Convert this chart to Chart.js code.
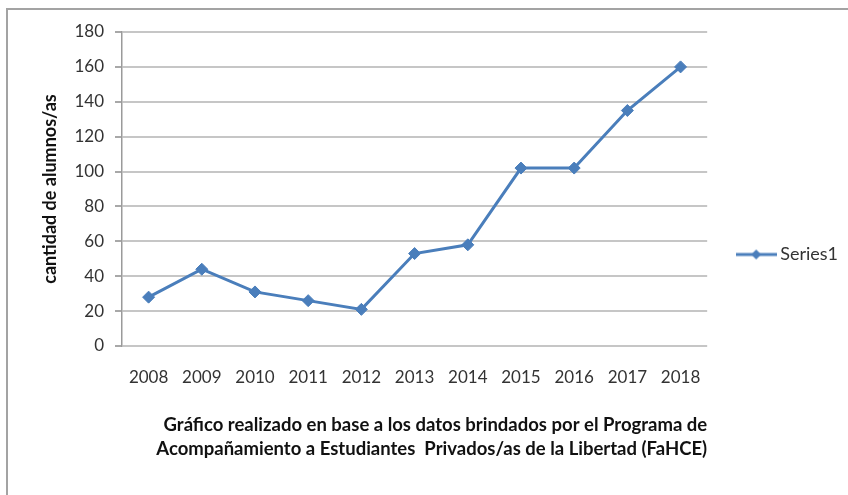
<!DOCTYPE html>
<html>
<head>
<meta charset="utf-8">
<script src="https://cdn.jsdelivr.net/npm/chart.js@4/dist/chart.umd.min.js"></script>
<style>
  html, body { margin: 0; padding: 0; background: #fff; }
  #wrap { position: relative; width: 848px; height: 495px; overflow: hidden; }
  #chart { position: absolute; left: 0; top: 0; }
  /* borde del área del gráfico (recortado a la derecha y abajo) */
  #frame {
    position: absolute; left: 6px; top: 8px; width: 900px; height: 600px;
    border-left: 2px solid #a3a3a3; border-top: 2px solid #a3a3a3;
    pointer-events: none;
  }
</style>
</head>
<body>
<div id="wrap">
  <canvas id="chart" width="848" height="495"></canvas>
  <div id="frame"></div>
</div>
<script>
// Datos del gráfico
const years = ['2008', '2009', '2010', '2011', '2012', '2013', '2014', '2015', '2016', '2017', '2018'];
const students = [28, 44, 31, 26, 21, 53, 58, 102, 102, 135, 160];
const seriesName = 'Series1';
const yAxisTitle = 'cantidad de alumnos/as';
const xAxisTitle = [
    'Gráfico realizado en base a los datos brindados por el Programa de',
    'Acompañamiento a Estudiantes  Privados/as de la Libertad (FaHCE)'
];

const blue = '#4a7ebb';
const fontFamily = 'Lato, "Open Sans", sans-serif';

// Muestra de la leyenda: línea con rombo
function legendSample() {
    const c = document.createElement('canvas');
    c.width = 41;
    c.height = 14;
    const g = c.getContext('2d');
    g.strokeStyle = blue;
    g.lineWidth = 3;
    g.beginPath();
    g.moveTo(0, 7);
    g.lineTo(41, 7);
    g.stroke();
    g.fillStyle = blue;
    g.beginPath();
    g.moveTo(20.5, 2);
    g.lineTo(25.5, 7);
    g.lineTo(20.5, 12);
    g.lineTo(15.5, 7);
    g.closePath();
    g.fill();
    return c;
}

const ctx = document.getElementById('chart').getContext('2d');
new Chart(ctx, {
    type: 'line',
    data: {
        labels: years,
        datasets: [{
            label: seriesName,
            data: students,
            borderColor: blue,
            backgroundColor: blue,
            borderWidth: 3,
            pointStyle: 'rectRot',
            pointRadius: 6,
            pointBorderWidth: 1,
            tension: 0
        }]
    },
    options: {
        responsive: false,
        animation: false,
        layout: {
            padding: { left: 37, top: 32, right: 0, bottom: 18 }
        },
        plugins: {
            tooltip: { enabled: false },
            legend: {
                position: 'right',
                labels: {
                    usePointStyle: true,
                    pointStyle: legendSample(),
                    pointStyleWidth: 30,
                    color: '#333',
                    padding: 34,
                    font: { family: fontFamily, size: 18 }
                }
            }
        },
        scales: {
            x: {
                offset: true,
                afterFit: (scale) => { scale.height = 495 - 18 - 346; },
                grid: { display: false, drawTicks: false },
                border: { display: false },
                ticks: {
                    color: '#333',
                    padding: 21,
                    maxRotation: 0,
                    autoSkip: false,
                    font: { family: fontFamily, size: 17 }
                },
                title: {
                    display: true,
                    text: xAxisTitle,
                    align: 'end',
                    color: '#111',
                    padding: { top: 0, bottom: 16 },
                    font: { family: fontFamily, size: 18.5, weight: 'bold', lineHeight: 1.3 }
                }
            },
            y: {
                min: 0,
                max: 180,
                afterFit: (scale) => { scale.width = 85; },
                grid: {
                    color: '#c6c6c6',
                    lineWidth: 2,
                    tickLength: 7,
                    tickColor: '#a8a8a8'
                },
                border: { display: true, color: '#9a9a9a', width: 1.5 },
                ticks: {
                    stepSize: 20,
                    color: '#333',
                    padding: 11,
                    font: { family: fontFamily, size: 17 }
                },
                title: {
                    display: true,
                    text: yAxisTitle,
                    color: '#111',
                    padding: { top: 2, bottom: 0 },
                    font: { family: fontFamily, size: 18, weight: 'bold', lineHeight: 1.2 }
                }
            }
        }
    }
});
</script>
</body>
</html>
